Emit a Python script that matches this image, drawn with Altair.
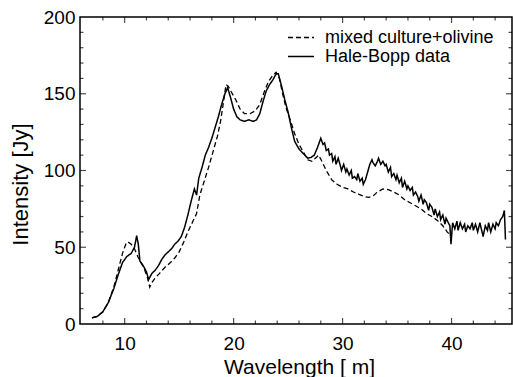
import altair as alt
import pandas as pd

# ---- data ----
series_names = ["mixed culture+olivine", "Hale-Bopp data"]

model_x = [7.0, 7.5, 8.0, 8.5, 9.0, 9.4, 9.8, 10.1, 10.3, 10.6, 10.9, 11.2, 11.5, 11.8,
           12.1, 12.3, 12.5, 12.8, 13.2, 13.7, 14.2, 14.6, 15.0, 15.4, 15.8, 16.2, 16.6,
           16.9, 17.3, 17.7, 18.1, 18.5, 18.8, 19.1, 19.3, 19.5, 19.8, 20.2, 20.6, 21.0,
           21.5, 22.0, 22.4, 22.8, 23.2, 23.6, 23.9, 24.2, 24.5, 24.8, 25.2, 25.6, 26.0,
           26.4, 26.8, 27.2, 27.5, 27.8, 28.1, 28.5, 29.0, 29.5, 30.0, 30.5, 31.0, 31.5,
           32.0, 32.4, 32.8, 33.2, 33.7, 34.2, 34.7, 35.2, 35.7, 36.2, 36.7, 37.2, 37.7,
           38.2, 38.7, 39.2, 39.6, 40.0]
model_y = [4, 5, 8, 14, 24, 35, 46, 52, 53.5, 52, 49, 44, 40, 36,
           30, 24, 27, 30, 33, 37, 40, 43, 47, 53, 60, 66, 72,
           84, 93, 102, 112, 122, 132, 146, 156, 155, 151, 146, 140, 137,
           137, 139, 143, 151, 158, 162, 164, 160, 150, 141, 133, 124, 117,
           112, 107, 106, 108, 110, 106, 100, 94, 91, 89, 88, 86, 84.5,
           83, 82.5, 83.5, 86, 88, 87.5, 86, 84, 81, 79, 77, 75, 72,
           70, 67.5, 64, 60, 57]

data_x = [7.0, 7.5, 8.0, 8.5, 9.0, 9.4, 9.8, 10.2, 10.6, 10.9, 11.1, 11.25, 11.4, 11.7,
          12.0, 12.2, 12.35, 12.5, 12.8, 13.1, 13.4, 13.7, 14.0, 14.3, 14.6, 14.9, 15.2,
          15.5, 15.8, 16.1, 16.4, 16.6, 16.8, 17.1, 17.4, 17.7, 18.0, 18.3, 18.6, 18.9,
          19.2, 19.45, 19.7, 20.0, 20.3, 20.6, 21.0, 21.4, 21.8, 22.1, 22.4, 22.7, 23.0,
          23.3, 23.6, 23.9, 24.1, 24.4, 24.7, 25.0, 25.3, 25.6, 26.0, 26.4, 26.8, 27.1,
          27.4, 27.7, 28.0, 28.2, 28.35, 28.5, 28.7, 28.8, 29.0, 29.1, 29.3, 29.4, 29.6,
          29.8, 29.9, 30.1, 30.3, 30.4, 30.6, 30.8, 30.9, 31.1, 31.3, 31.4, 31.6, 31.8,
          31.9, 32.1, 32.3, 32.5, 32.7, 32.8, 33.0, 33.2, 33.3, 33.5, 33.7, 33.9, 34.0,
          34.2, 34.4, 34.5, 34.7, 34.9, 35.0, 35.2, 35.4, 35.5, 35.7, 35.9, 36.0, 36.2,
          36.4, 36.5, 36.7, 36.9, 37.0, 37.2, 37.4, 37.5, 37.7, 37.9, 38.0, 38.2, 38.4,
          38.5, 38.7, 38.9, 39.0, 39.2, 39.4, 39.5, 39.7, 39.85, 39.95, 40.1, 40.3, 40.5,
          40.6, 40.8, 41.0, 41.2, 41.3, 41.5, 41.7, 41.9, 42.0, 42.2, 42.4, 42.6, 42.7,
          42.9, 43.1, 43.3, 43.4, 43.6, 43.8, 44.0, 44.1, 44.3, 44.5, 44.7, 44.85, 44.95]
data_y = [4, 5, 8, 14, 23, 32, 40, 44, 46, 50, 57.5, 52, 41, 38,
          34, 29, 31, 33, 35, 38, 42, 45, 47, 49, 52, 54, 57,
          63, 71, 80, 88, 84, 95, 102, 110, 115, 121, 128, 135, 143,
          150, 154, 148, 140, 135, 133, 132, 133, 132, 133, 137, 145, 152,
          156, 159, 163, 163, 155, 146, 138, 128, 119, 114, 111, 108, 108.5,
          110, 115, 121, 117, 118, 113, 114, 110, 111, 106, 109, 104, 108,
          103, 100, 104, 99, 101, 97, 100, 95, 96, 94, 98, 93, 95,
          91, 94, 99, 104, 107, 105, 103, 106, 108, 104, 106, 103, 104,
          99, 102, 96, 98, 94, 97, 92, 95, 89, 93, 88, 90, 87,
          89, 84, 86, 83, 80, 84, 78, 81, 79, 74, 78, 76, 71,
          75, 70, 73, 68, 71, 65, 69, 66, 64, 52, 66, 62, 67,
          61, 66, 62, 65, 60, 64, 62, 66, 61, 65, 60, 66, 63,
          57, 64, 61, 66, 60, 65, 62, 66, 64, 68, 70, 74, 55]

x_label_values = [10, 20, 30, 40]
y_label_values = [0, 50, 100, 150, 200]
x_tick_values = [8, 10, 12, 14, 16, 18, 20, 22, 24, 26, 28, 30, 32, 34, 36, 38, 40, 42, 44]
y_tick_values = [10, 20, 30, 40, 50, 60, 70, 80, 90, 100, 110, 120, 130, 140, 150,
                 160, 170, 180, 190]

df = pd.concat([
    pd.DataFrame({"x": model_x, "y": model_y, "series": series_names[0]}),
    pd.DataFrame({"x": data_x, "y": data_y, "series": series_names[1]}),
], ignore_index=True)

# tick-length tables (major ticks longer); doubled because ticks are centred on the frame and clipped
xticks_df = pd.DataFrame({"v": x_tick_values,
                          "len": [12 if v % 10 == 0 else 7 for v in x_tick_values]})
yticks_df = pd.DataFrame({"v": y_tick_values,
                          "len": [12 if v % 50 == 0 else 7 for v in y_tick_values]})

W, H = 432, 307
FONT = "Liberation Sans"

xs = alt.Scale(domain=[5.9, 45.55], nice=False, zero=False)
ys = alt.Scale(domain=[0, 200], nice=False, zero=False)
dash_scale = alt.Scale(domain=series_names, range=[[5, 3], [1, 0]])

legend = alt.Legend(
    title=None, orient="none", legendX=207, legendY=12,
    symbolType="stroke", symbolSize=676, symbolStrokeWidth=1.5,
    symbolStrokeColor="black", labelFont=FONT, labelFontSize=18,
    labelColor="black", labelOffset=10, rowPadding=0, padding=0,
    labelLimit=400, clipHeight=17,
)

ax_x_main = alt.Axis(values=x_label_values, ticks=False, tickSize=0, domain=False, grid=False,
                     labelFont=FONT, labelFontSize=19, labelColor="black", labelPadding=10,
                     title="Wavelength [ m]", titleFont=FONT, titleFontSize=21,
                     titleFontWeight="normal", titleColor="black", titleBaseline="alphabetic",
                     titleX=219, titleY=49, titleAlign="center")
ax_y_main = alt.Axis(values=y_label_values, ticks=False, tickSize=0, domain=False, grid=False,
                     labelFont=FONT, labelFontSize=19, labelColor="black", labelPadding=5,
                     title="Intensity [Jy]", titleFont=FONT, titleFontSize=22,
                     titleFontWeight="normal", titleColor="black", titleBaseline="alphabetic",
                     titleAngle=270, titleX=-53, titleY=167, titleAlign="center")

base = alt.Chart(df)

solid = base.transform_filter(alt.datum.series == series_names[1]).mark_line(
    color="black", strokeWidth=1.5).encode(
    x=alt.X("x:Q", scale=xs, axis=ax_x_main),
    y=alt.Y("y:Q", scale=ys, axis=ax_y_main),
    strokeDash=alt.StrokeDash("series:N", scale=dash_scale, legend=legend),
)

dashed = base.transform_filter(alt.datum.series == series_names[0]).mark_line(
    color="black", strokeWidth=1.3).encode(
    x=alt.X("x:Q", scale=xs, axis=None),
    y=alt.Y("y:Q", scale=ys, axis=None),
    strokeDash=alt.StrokeDash("series:N", scale=dash_scale, legend=legend),
)

# inward frame ticks (centred on the frame edge, clipped to the plot area)
tick_kw = dict(color="black", thickness=1.2, clip=True)
xt = alt.Chart(xticks_df)
yt = alt.Chart(yticks_df)
ticks_bottom = xt.mark_tick(orient="vertical", **tick_kw).encode(
    x=alt.X("v:Q", scale=xs, axis=None), y=alt.value(H),
    size=alt.Size("len:Q", scale=None, legend=None))
ticks_top = xt.mark_tick(orient="vertical", **tick_kw).encode(
    x=alt.X("v:Q", scale=xs, axis=None), y=alt.value(0),
    size=alt.Size("len:Q", scale=None, legend=None))
ticks_left = yt.mark_tick(orient="horizontal", **tick_kw).encode(
    y=alt.Y("v:Q", scale=ys, axis=None), x=alt.value(0),
    size=alt.Size("len:Q", scale=None, legend=None))
ticks_right = yt.mark_tick(orient="horizontal", **tick_kw).encode(
    y=alt.Y("v:Q", scale=ys, axis=None), x=alt.value(W),
    size=alt.Size("len:Q", scale=None, legend=None))

chart = alt.layer(
    solid, dashed, ticks_bottom, ticks_top, ticks_left, ticks_right
).resolve_axis(
    x="independent", y="independent"
).properties(
    width=W, height=H, autosize="none",
    padding={"left": 80, "top": 17, "right": 1, "bottom": 53},
    background="white",
).configure_view(stroke="black", strokeWidth=1.5)

chart.save("out.html", embed_options={"renderer": "svg", "actions": False})
